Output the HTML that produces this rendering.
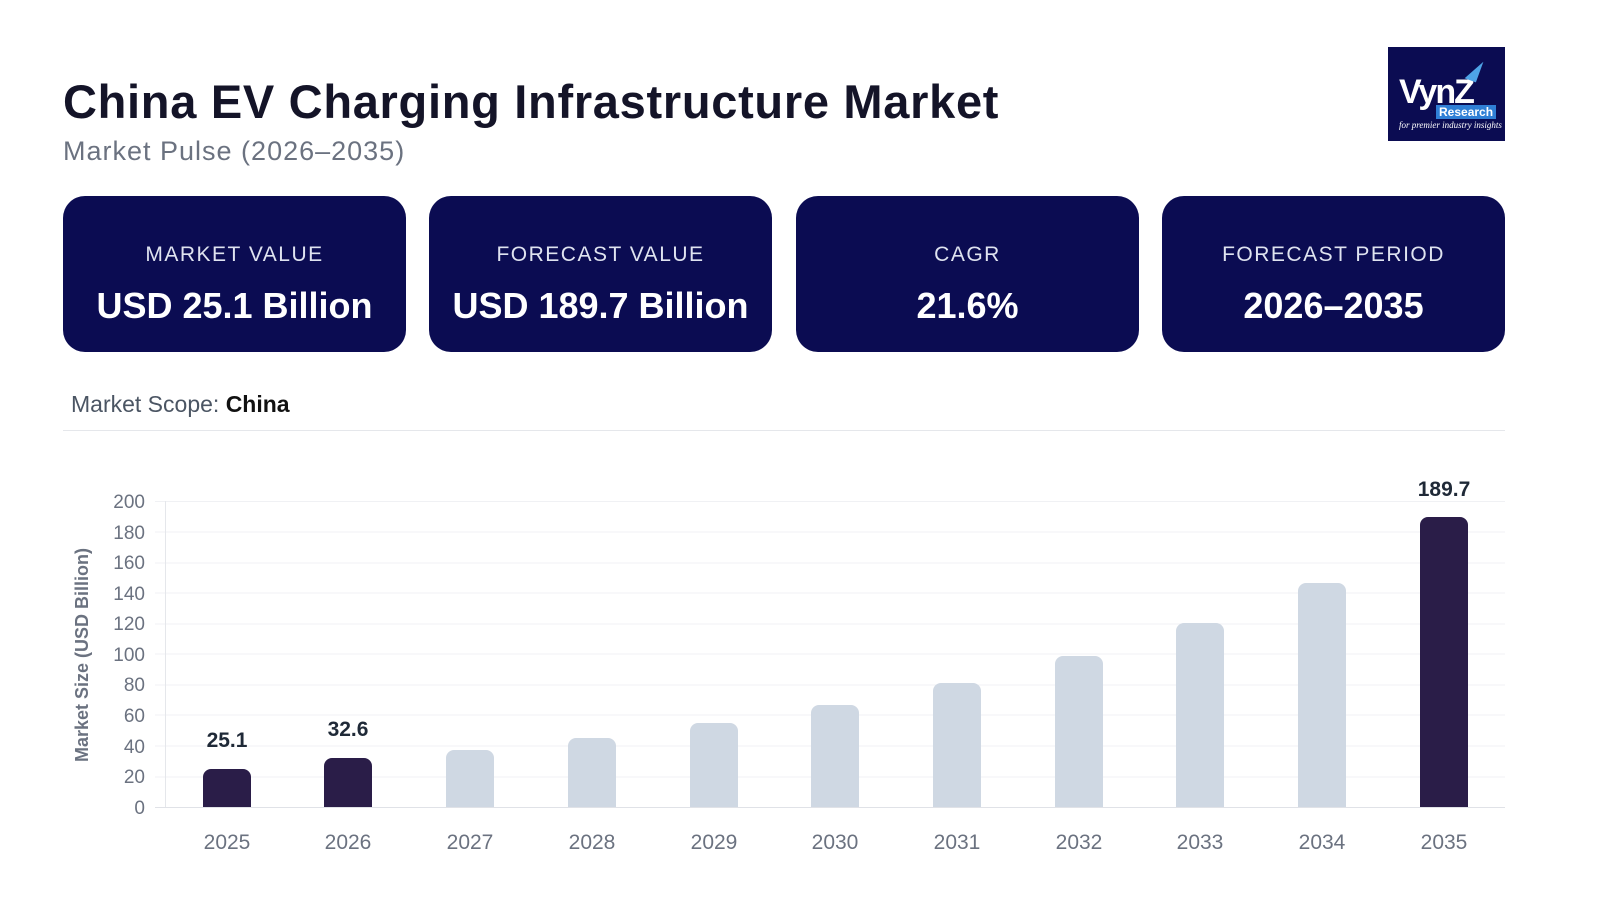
<!DOCTYPE html>
<html><head><meta charset="utf-8"><style>
body{margin:0;width:1600px;height:900px;background:#fff;font-family:"Liberation Sans",sans-serif;position:relative;overflow:hidden}
.t{position:absolute;left:63px;top:74px;font-size:47px;font-weight:bold;color:#141428;letter-spacing:0.7px}
.s{position:absolute;left:63px;top:136px;font-size:27px;color:#6b7280;letter-spacing:1px}
.card{position:absolute;top:196px;width:343px;height:156px;background:#0b0c52;border-radius:22px;color:#fff;text-align:center}
.card .l{margin-top:47px;font-size:21px;letter-spacing:1.5px;color:#dfe3f0}
.card .v{margin-top:18px;font-size:36px;font-weight:bold}
.logo{position:absolute;left:1388px;top:47px;width:117px;height:94px;background:#0b0c52;color:#fff}
.scope{position:absolute;left:71px;top:391px;font-size:23px;color:#4b5563}
.hr{position:absolute;left:63px;top:430px;width:1442px;height:1px;background:#e5e7eb}
</style></head><body>
<div class="t">China EV Charging Infrastructure Market</div>
<div class="s">Market Pulse (2026–2035)</div>
<div class="logo">
<div style="position:absolute;left:11px;top:26px;font-size:34px;font-weight:bold;letter-spacing:-2px">VynZ</div>
<div style="position:absolute;left:80px;top:12px;width:0;height:0;border-left:12px solid transparent;border-bottom:22px solid #4ea3e6;transform:rotate(20deg)"></div>
<div style="position:absolute;left:48px;top:58px;background:#2f7fd6;font-size:12px;padding:0 3px;font-weight:bold">Research</div>
<div style="position:absolute;left:11px;top:73px;font-size:9px;font-style:italic;font-family:'Liberation Serif',serif">for premier industry insights</div>
</div>
<div class="card" style="left:63px"><div class="l">MARKET VALUE</div><div class="v">USD 25.1 Billion</div></div>
<div class="card" style="left:429px"><div class="l">FORECAST VALUE</div><div class="v">USD 189.7 Billion</div></div>
<div class="card" style="left:796px"><div class="l">CAGR</div><div class="v">21.6%</div></div>
<div class="card" style="left:1162px"><div class="l">FORECAST PERIOD</div><div class="v">2026–2035</div></div>
<div class="scope">Market Scope: <b style="color:#111">China</b></div>
<div class="hr"></div>
<svg style="position:absolute;left:0;top:0" width="1600" height="900" font-family="Liberation Sans, sans-serif">
<g stroke="#f0f1f4" stroke-width="1">
<line x1="155" x2="1505" y1="501.5" y2="501.5"/><line x1="155" x2="1505" y1="532" y2="532"/><line x1="155" x2="1505" y1="563" y2="563"/><line x1="155" x2="1505" y1="593" y2="593"/><line x1="155" x2="1505" y1="624" y2="624"/><line x1="155" x2="1505" y1="654" y2="654"/><line x1="155" x2="1505" y1="685" y2="685"/><line x1="155" x2="1505" y1="715" y2="715"/><line x1="155" x2="1505" y1="746" y2="746"/><line x1="155" x2="1505" y1="777" y2="777"/>
</g>
<line x1="165.5" x2="165.5" y1="501" y2="808" stroke="#e5e7eb"/>
<line x1="155" x2="1505" y1="807.5" y2="807.5" stroke="#e0e2e7"/>
<g font-size="19" fill="#6b7280" text-anchor="end">
<text x="145" y="508">200</text><text x="145" y="539">180</text><text x="145" y="569">160</text><text x="145" y="600">140</text><text x="145" y="630">120</text><text x="145" y="661">100</text><text x="145" y="691">80</text><text x="145" y="722">60</text><text x="145" y="753">40</text><text x="145" y="783">20</text><text x="145" y="814">0</text>
</g>
<text transform="translate(88,655) rotate(-90)" font-size="18" font-weight="bold" fill="#6b7280" text-anchor="middle">Market Size (USD Billion)</text>
<g>
<path d="M203 807V777a8 8 0 0 1 8-8h32a8 8 0 0 1 8 8V807z" fill="#2a1d48"/>
<path d="M324 807V766a8 8 0 0 1 8-8h32a8 8 0 0 1 8 8V807z" fill="#2a1d48"/>
<path d="M446 807V758a8 8 0 0 1 8-8h32a8 8 0 0 1 8 8V807z" fill="#cfd8e3"/>
<path d="M568 807V746a8 8 0 0 1 8-8h32a8 8 0 0 1 8 8V807z" fill="#cfd8e3"/>
<path d="M690 807V731a8 8 0 0 1 8-8h32a8 8 0 0 1 8 8V807z" fill="#cfd8e3"/>
<path d="M811 807V713a8 8 0 0 1 8-8h32a8 8 0 0 1 8 8V807z" fill="#cfd8e3"/>
<path d="M933 807V691a8 8 0 0 1 8-8h32a8 8 0 0 1 8 8V807z" fill="#cfd8e3"/>
<path d="M1055 807V664a8 8 0 0 1 8-8h32a8 8 0 0 1 8 8V807z" fill="#cfd8e3"/>
<path d="M1176 807V631a8 8 0 0 1 8-8h32a8 8 0 0 1 8 8V807z" fill="#cfd8e3"/>
<path d="M1298 807V591a8 8 0 0 1 8-8h32a8 8 0 0 1 8 8V807z" fill="#cfd8e3"/>
<path d="M1420 807V525a8 8 0 0 1 8-8h32a8 8 0 0 1 8 8V807z" fill="#2a1d48"/>
</g>
<g font-size="21" font-weight="bold" fill="#1f2937" text-anchor="middle">
<text x="227" y="747">25.1</text><text x="348" y="736">32.6</text><text x="1444" y="496">189.7</text>
</g>
<g font-size="21" fill="#6b7280" text-anchor="middle">
<text x="227" y="849">2025</text><text x="348" y="849">2026</text><text x="470" y="849">2027</text><text x="592" y="849">2028</text><text x="714" y="849">2029</text><text x="835" y="849">2030</text><text x="957" y="849">2031</text><text x="1079" y="849">2032</text><text x="1200" y="849">2033</text><text x="1322" y="849">2034</text><text x="1444" y="849">2035</text>
</g>
</svg>
</body></html>
